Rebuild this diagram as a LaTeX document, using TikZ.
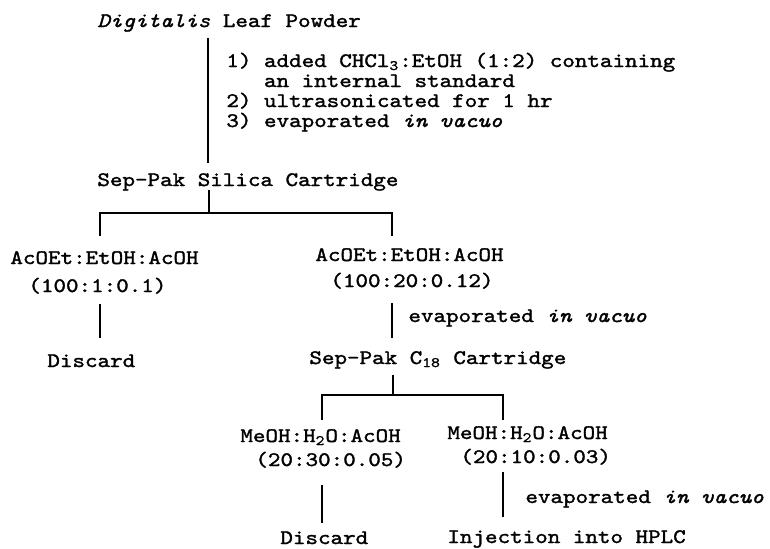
\documentclass[tikz,border=0pt]{standalone}
\usepackage{fontspec}
\setmonofont{lmmono10-regular}[Extension=.otf, ItalicFont=lmmono10-italic, FakeStretch=1.16, FakeBold=1.5]
\tikzset{
  flow/.style={line width=1.4pt},
  lbl/.style={anchor=base west, inner sep=0pt, font=\ttfamily\fontsize{10.3}{10.3}\selectfont},
}

\begin{document}
\begin{tikzpicture}[x=0.5pt, y=-0.5pt]
    \useasboundingbox (0,0) rectangle (770,548);
    % Extraction of the leaf powder
    \node[lbl] (leaf)  at (97,27)   {\textit{Digitalis} Leaf Powder};
    \node[lbl] (step1) at (226,67)  {1) added CHCl\textsubscript{3}:EtOH (1:2) containing};
    \node[lbl] (step2) at (226,87)  {\phantom{1) }an internal standard};
    \node[lbl] (step3) at (226,107) {2) ultrasonicated for 1 hr};
    \node[lbl] (step4) at (226,127) {3) evaporated \textit{in vacuo}};
    \node[lbl] (silica) at (97,186) {Sep-Pak Silica Cartridge};
    \coordinate (trunk1a) at (208,38);
    \coordinate (trunk1b) at (208,163);
    \draw[flow] (trunk1a) -- (trunk1b);

    % First split on silica
    \coordinate (stem1) at (209,190);
    \coordinate (fork1) at (209,213);
    \coordinate (drop1l) at (100,236);
    \coordinate (drop1r) at (392,236);
    \draw[flow] (stem1) -- (fork1);
    \draw[flow] (drop1l) |- (fork1) -| (drop1r);

    \node[lbl] (eluA)   at (10,264)  {AcOEt:EtOH:AcOH};
    \node[lbl] (ratioA) at (28,292)  {(100:1:0.1)};
    \node[lbl] (eluB)   at (315,261) {AcOEt:EtOH:AcOH};
    \node[lbl] (ratioB) at (330,287) {(100:20:0.12)};

    % Discard left, evaporate right
    \coordinate (wasteA) at (100,304);
    \coordinate (wasteAend) at (100,338);
    \draw[flow] (wasteA) -- (wasteAend);
    \node[lbl] (discA) at (47,367) {Discard};

    \coordinate (trunk2a) at (392,303);
    \coordinate (trunk2b) at (392,338);
    \draw[flow] (trunk2a) -- (trunk2b);
    \node[lbl] (evapB) at (408,322) {evaporated \textit{in vacuo}};
    \node[lbl] (c18)   at (309,364) {Sep-Pak C\textsubscript{18} Cartridge};

    % Second split on C18
    \coordinate (stem2) at (393,375);
    \coordinate (fork2) at (393,395);
    \coordinate (drop2l) at (322,420);
    \coordinate (drop2r) at (503,420);
    \draw[flow] (stem2) -- (fork2);
    \draw[flow] (drop2l) |- (fork2) -| (drop2r);

    \node[lbl] (eluC)   at (240,442) {MeOH:H\textsubscript{2}O:AcOH};
    \node[lbl] (ratioC) at (255,466) {(20:30:0.05)};
    \node[lbl] (eluD)   at (447,439) {MeOH:H\textsubscript{2}O:AcOH};
    \node[lbl] (ratioD) at (460,463) {(20:10:0.03)};

    \coordinate (wasteC) at (322,485);
    \coordinate (wasteCend) at (322,523);
    \draw[flow] (wasteC) -- (wasteCend);
    \node[lbl] (discC) at (280,544) {Discard};

    \coordinate (trunk3a) at (503,472);
    \coordinate (trunk3b) at (503,517);
    \draw[flow] (trunk3a) -- (trunk3b);
    \node[lbl] (evapD) at (525,503) {evaporated \textit{in vacuo}};
    \node[lbl] (hplc)  at (447,543) {Injection into HPLC};
\end{tikzpicture}
\end{document}
